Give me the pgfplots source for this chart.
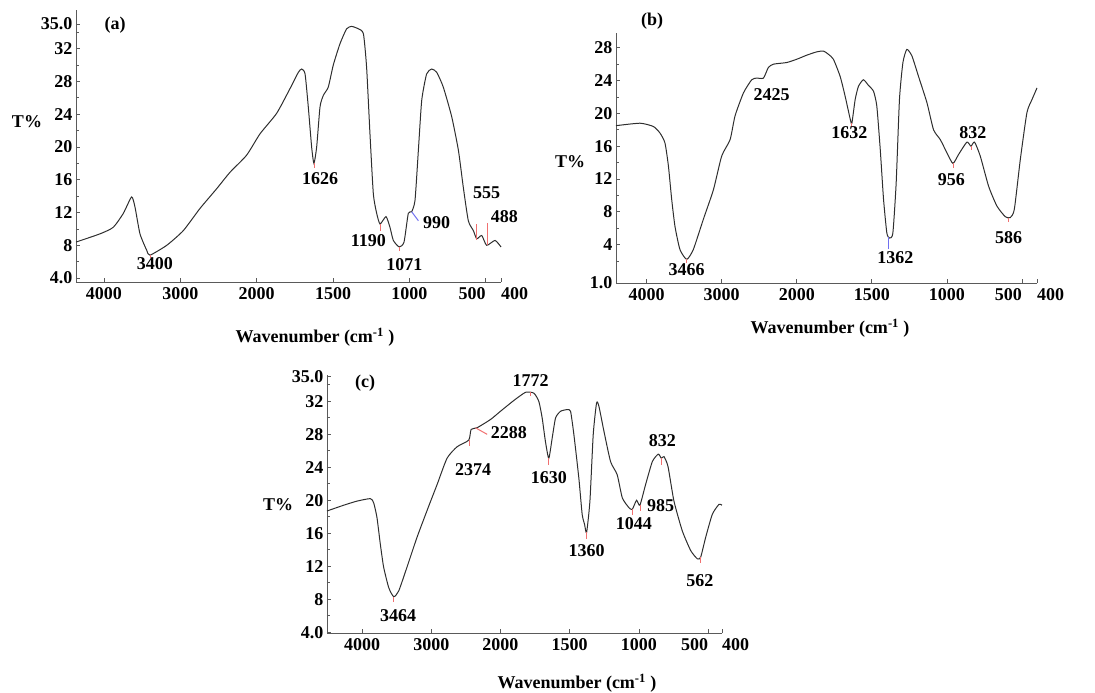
\documentclass[border=0pt]{standalone}
\usepackage{pgfplots}
\pgfplotsset{compat=1.18}
\usepackage{fontspec}
\setmainfont{Liberation Serif}
\definecolor{axgray}{HTML}{5A5A5A}
\definecolor{curve}{HTML}{2E2E2E}
\definecolor{mkred}{HTML}{F07070}
\definecolor{mkblue}{HTML}{7070F0}

\newcommand{\lbl}{\fontsize{18}{20}\selectfont\bfseries}

\pgfplotsset{
 ftir/.style={
  scale only axis,
  anchor=south west,
  x dir=reverse,
  x coord trafo/.code={\pgfmathparse{##1>2000 ? 1000+0.5*##1 : ##1}},
  axis x line*=bottom, axis y line*=left,
  axis line style={axgray, line width=0.9pt, -},
  tick style={axgray, line width=0.8pt},
  tick align=inside,
  major tick length=4pt, minor tick length=3pt,
  xmin=400,
  xtick={400,500,1000,1500,2000,3000,4000},
  xticklabels={\makebox[0pt][l]{400},\makebox[0pt][r]{500},1000,1500,2000,3000,4000},
  tick label style={font=\lbl},
  xticklabel style={yshift=-2pt},
  clip=false,
 },
 spec/.style={curve, line width=1pt, smooth, tension=0.35, mark=none},
}

\begin{document}
\begin{tikzpicture}
\useasboundingbox (0,0) rectangle (1095pt,693pt);

% ---------------- (a) ----------------
\begin{axis}[ftir, at={(76pt,411pt)}, width=425pt, height=272pt,
  xmax=4366, ymin=3.53, ymax=36.7,
  ytick={4,8,12,16,20,24,28,32,35},
  yticklabels={4.0,8,12,16,20,24,28,32,35.0},
  minor ytick={6,10,14,18,22,26,30,34}]
\addplot[spec] table {
wn T
4366 8.4
4052 9.4
3878 10.2
3746 11.9
3638 13.9
3594 12.7
3528 9.4
3440 7.4
3398 6.8
3178 8.0
2960 9.8
2742 12.5
2524 14.9
2350 16.9
2131 19.0
1978 21.6
1869 24.1
1782 27.1
1727 29.1
1705 29.5
1683 28.9
1662 24.9
1640 20.0
1625 18.0
1607 20.0
1585 24.9
1563 26.3
1531 27.3
1498 30.0
1454 32.6
1411 34.4
1378 34.7
1334 34.4
1301 33.8
1280 29.7
1258 21.6
1236 14.3
1214 11.9
1192 10.6
1153 11.5
1127 10.2
1105 8.6
1066 7.8
1035 8.4
1007 11.9
985 12.1
963 13.5
941 19.6
919 25.7
887 28.9
854 29.5
821 29.1
778 27.3
723 23.7
679 19.6
647 15.1
614 11.0
581 9.8
559 8.8
526 9.2
494 8.0
439 8.6
400 7.8
};
\draw[mkred, line width=1pt] (axis cs:559,10.6) -- (axis cs:559,8.7);
\draw[mkred, line width=1pt] (axis cs:490,10.7) -- (axis cs:490,8.0);
\draw[mkblue, line width=1pt] (axis cs:985,12.1) -- (axis cs:941,11.0);
\draw[mkred, line width=0.8pt] (axis cs:1625,18.0) -- (axis cs:1625,17.4);
\draw[mkred, line width=0.8pt] (axis cs:1192,10.6) -- (axis cs:1192,9.8);
\draw[mkred, line width=0.8pt] (axis cs:1066,7.8) -- (axis cs:1066,7.3);
\draw[mkred, line width=0.8pt] (axis cs:3398,6.8) -- (axis cs:3398,6.4);
\node[font=\lbl] at (axis cs:3332,5.76) {3400};
\node[font=\lbl] at (axis cs:1585,16.1) {1626};
\node[font=\lbl] at (axis cs:1269,8.6) {1190};
\node[font=\lbl] at (axis cs:1033,5.6) {1071};
\node[font=\lbl] at (axis cs:821,10.8) {990};
\node[font=\lbl] at (axis cs:494,14.4) {555};
\node[font=\lbl, anchor=west] at (axis cs:489,11.5) {488};
\end{axis}
\node[font=\lbl] at (115pt,668pt) {(a)};
\node[font=\lbl] at (27pt,571pt) {T\%};
\node[font=\lbl] at (315pt,356pt) {Wavenumber (cm\textsuperscript{-1} )};

% ---------------- (b) ----------------
\begin{axis}[ftir, at={(616pt,410pt)}, width=421pt, height=250pt,
  xmax=4408, ymin=-0.68, ymax=29.8,
  ytick={-0.68,4,8,12,16,20,24,28},
  yticklabels={1.0,4,8,12,16,20,24,28},
  minor ytick={2,6,10,14,18,22,26}]
\addplot[spec] table {
wn T
4408 18.5
4088 18.8
3910 18.4
3822 17.6
3756 16.4
3710 13.6
3666 9.5
3622 6.2
3556 3.4
3466 2.2
3378 3.4
3244 7.1
3110 10.7
3000 14.8
2888 16.8
2822 19.7
2710 22.5
2600 24.1
2534 24.3
2444 24.3
2378 25.6
2310 26.0
2134 26.2
2000 26.6
1933 27.1
1867 27.5
1822 27.6
1789 27.2
1756 26.6
1711 24.5
1678 22.1
1644 19.3
1633 18.8
1611 21.7
1589 23.3
1556 24.1
1522 23.4
1489 22.7
1467 20.9
1444 15.6
1422 9.5
1400 5.4
1382 4.8
1360 5.4
1338 11.5
1316 21.7
1293 26.2
1267 27.8
1233 27.0
1189 24.5
1133 21.3
1089 18.0
1044 16.8
1000 15.2
960 13.9
922 15.0
867 16.5
840 16.0
816 16.5
778 14.8
722 11.1
667 8.7
611 7.4
578 7.3
551 8.3
511 14.4
467 20.1
433 21.7
400 23.1
};
\draw[mkblue, line width=1pt] (axis cs:1389,4.9) -- (axis cs:1389,3.5);
\draw[mkred, line width=0.8pt] (axis cs:3466,2.2) -- (axis cs:3466,1.8);
\draw[mkred, line width=0.8pt] (axis cs:1633,18.8) -- (axis cs:1633,18.3);
\draw[mkred, line width=0.8pt] (axis cs:960,13.9) -- (axis cs:960,13.4);
\draw[mkred, line width=0.8pt] (axis cs:840,16.0) -- (axis cs:840,15.5);
\draw[mkred, line width=0.8pt] (axis cs:589,7.3) -- (axis cs:589,6.8);
\node[font=\lbl] at (axis cs:3466,0.95) {3466};
\node[font=\lbl] at (axis cs:2334,22.3) {2425};
\node[font=\lbl] at (axis cs:1649,17.6) {1632};
\node[font=\lbl] at (axis cs:1344,2.4) {1362};
\node[font=\lbl] at (axis cs:971,11.9) {956};
\node[font=\lbl] at (axis cs:827,17.6) {832};
\node[font=\lbl] at (axis cs:589,4.8) {586};
\end{axis}
\node[font=\lbl] at (652pt,672pt) {(b)};
\node[font=\lbl] at (570pt,531pt) {T\%};
\node[font=\lbl] at (830pt,365pt) {Wavenumber (cm\textsuperscript{-1} )};

% ---------------- (c) ----------------
\begin{axis}[ftir, at={(327pt,60pt)}, width=395pt, height=258pt,
  xmax=4506, ymin=3.9, ymax=35.2,
  ytick={4,8,12,16,20,24,28,32,35},
  yticklabels={4.0,8,12,16,20,24,28,32,35.0},
  minor ytick={6,10,14,18,22,26,30,34}]
\addplot[spec] table {
wn T
4506 18.7
4266 19.4
4072 19.9
3880 20.2
3832 19.7
3784 17.9
3736 14.7
3688 11.9
3614 9.4
3542 8.3
3470 9.0
3350 11.9
3206 15.5
3036 19.3
2916 21.9
2772 25.1
2626 26.5
2458 27.3
2424 28.6
2338 28.8
2144 29.8
2000 30.8
1904 32.1
1819 33.1
1759 33.0
1723 32.0
1699 30.0
1675 27.1
1651 25.1
1626 27.6
1602 30.0
1566 30.8
1518 31.0
1494 30.8
1470 28.0
1434 22.7
1410 18.3
1393 17.1
1378 16.1
1354 19.9
1330 28.0
1306 31.8
1289 31.4
1253 28.4
1205 24.7
1157 23.1
1120 20.3
1072 19.1
1048 18.9
1017 20.0
993 19.4
952 21.9
903 24.7
860 25.6
838 25.1
819 25.3
790 24.1
747 19.9
687 16.3
626 13.9
578 12.9
554 13.1
518 15.5
470 18.3
422 19.5
400 19.4
};
\draw[mkred, line width=1pt] (axis cs:2362,28.8) -- (axis cs:2192,28.0);
\draw[mkred, line width=0.8pt] (axis cs:3542,8.3) -- (axis cs:3542,7.6);
\draw[mkred, line width=0.8pt] (axis cs:2444,27.3) -- (axis cs:2444,26.6);
\draw[mkred, line width=0.8pt] (axis cs:1783,33.1) -- (axis cs:1783,32.6);
\draw[mkred, line width=0.8pt] (axis cs:1651,25.1) -- (axis cs:1651,24.3);
\draw[mkred, line width=0.8pt] (axis cs:1378,16.1) -- (axis cs:1378,15.3);
\draw[mkred, line width=0.8pt] (axis cs:1048,18.9) -- (axis cs:1048,18.2);
\draw[mkred, line width=0.8pt] (axis cs:993,19.4) -- (axis cs:993,18.7);
\draw[mkred, line width=0.8pt] (axis cs:838,25.1) -- (axis cs:838,24.3);
\draw[mkred, line width=0.8pt] (axis cs:554,13.1) -- (axis cs:554,12.4);
\node[font=\lbl] at (axis cs:3480,6.0) {3464};
\node[font=\lbl] at (axis cs:2396,23.7) {2374};
\node[font=\lbl] at (axis cs:1940,28.2) {2288};
\node[font=\lbl] at (axis cs:1783,34.5) {1772};
\node[font=\lbl] at (axis cs:1651,22.8) {1630};
\node[font=\lbl] at (axis cs:1378,13.9) {1360};
\node[font=\lbl] at (axis cs:1036,17.2) {1044};
\node[font=\lbl] at (axis cs:843,19.4) {985};
\node[font=\lbl] at (axis cs:831,27.2) {832};
\node[font=\lbl] at (axis cs:559,10.3) {562};
\end{axis}
\node[font=\lbl] at (365pt,310pt) {(c)};
\node[font=\lbl] at (278pt,188pt) {T\%};
\node[font=\lbl] at (577pt,10pt) {Wavenumber (cm\textsuperscript{-1} )};

\end{tikzpicture}
\end{document}
